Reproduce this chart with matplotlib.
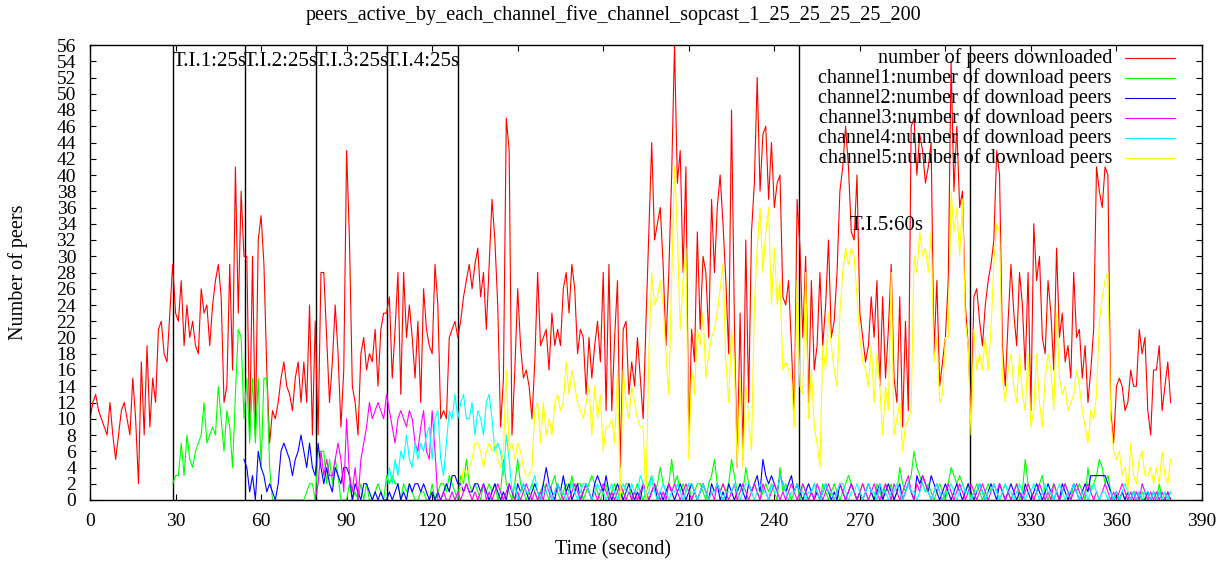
import numpy as np
import matplotlib
matplotlib.use("Agg")
import matplotlib.pyplot as plt

plt.rcParams['font.family'] = ['Liberation Serif', 'DejaVu Serif']

title = "peers_active_by_each_channel_five_channel_sopcast_1_25_25_25_25_200"

# total number of peers downloaded, one value per second from t=0
red_start = 0
red = [
    10, 12, 13, 11, 10, 9, 8, 12, 8, 5,
    8, 11, 12, 10, 8, 15, 10, 2, 17, 8,
    19, 9, 15, 12, 21, 22, 18, 17, 23, 29,
    23, 22, 27, 19, 24, 20, 22, 19, 18, 26,
    23, 24, 19, 24, 27, 29, 25, 12, 14, 29,
    16, 41, 23, 38, 30, 30, 8, 30, 8, 32,
    35, 29, 16, 7, 11, 10, 12, 15, 17, 14,
    13, 11, 15, 17, 12, 17, 12, 24, 8, 22,
    8, 28, 28, 20, 12, 17, 24, 18, 9, 16,
    43, 32, 14, 12, 8, 18, 20, 16, 18, 17,
    21, 14, 21, 23, 23, 25, 15, 21, 28, 13,
    28, 20, 24, 20, 15, 22, 12, 26, 21, 19,
    18, 29, 24, 10, 11, 10, 20, 21, 22, 20,
    22, 25, 27, 29, 26, 29, 31, 25, 28, 21,
    29, 37, 32, 24, 9, 15, 47, 43, 8, 16,
    26, 19, 15, 16, 14, 10, 17, 28, 19, 20,
    21, 16, 23, 19, 21, 19, 26, 28, 23, 29,
    26, 18, 21, 20, 13, 20, 15, 19, 22, 17,
    28, 11, 29, 11, 20, 27, 4, 21, 22, 13,
    17, 14, 20, 15, 10, 22, 33, 44, 32, 34,
    36, 29, 19, 28, 40, 56, 39, 43, 28, 41,
    7, 21, 17, 33, 21, 30, 28, 20, 37, 28,
    36, 40, 34, 27, 18, 48, 22, 4, 23, 5,
    32, 12, 33, 39, 52, 38, 45, 46, 37, 44,
    36, 39, 40, 25, 24, 27, 19, 10, 37, 31,
    20, 30, 12, 27, 16, 19, 28, 19, 24, 32,
    20, 22, 28, 38, 41, 46, 41, 33, 32, 40,
    23, 20, 17, 19, 25, 20, 27, 14, 25, 15,
    21, 29, 15, 12, 25, 9, 22, 11, 46, 47,
    40, 45, 43, 39, 41, 44, 18, 27, 14, 17,
    20, 27, 54, 38, 46, 36, 38, 24, 19, 10,
    25, 26, 22, 19, 24, 27, 29, 32, 43, 40,
    19, 14, 22, 29, 23, 19, 28, 24, 16, 28,
    11, 34, 27, 30, 20, 18, 27, 23, 16, 31,
    20, 23, 17, 19, 15, 28, 20, 21, 15, 19,
    12, 16, 21, 41, 38, 36, 41, 40, 11, 7,
    14, 15, 14, 11, 12, 16, 14, 14, 21, 18,
    20, 11, 8, 16, 16, 19, 11, 14, 17, 12,
]

ch1_start = 29
ch1 = [
    2, 3, 3, 7, 3, 8, 5, 4, 6, 7,
    8, 12, 7, 8, 9, 8, 14, 10, 6, 11,
    9, 4, 13, 21, 20, 10, 15, 7, 15, 7,
    15, 4, 15, 15, 4, 0, 0, 0, 0, 0,
    0, 0, 0, 0, 0, 0, 0, 1, 2, 2,
    0, 6, 6, 6, 2, 5, 2, 5, 3, 0,
    0, 0, 2, 0, 1, 0, 2, 0, 2, 0,
    0, 1, 2, 1, 0, 3, 2, 3, 2, 2,
    0, 2, 1, 2, 1, 0, 0, 1, 1, 0,
    0, 2, 0, 1, 2, 2, 1, 3, 2, 1,
    0,
    3, 2, 5, 2, 1, 2, 1, 0, 2, 1, 2, 1, 2, 0, 1, 5, 2, 1, 0, 2, 5, 2, 1, 0, 1,
    2, 1, 0, 1, 2, 1, 0, 2, 3, 1, 0, 1, 2, 1, 3, 1, 2, 2, 0, 1, 2, 3, 2, 1, 0,
    1, 2, 0, 1, 2, 1, 0, 1, 2, 2, 0, 1, 2, 1, 0, 1, 2, 3, 1, 2, 4, 2, 1, 2, 5,
    2, 3, 1, 2, 1, 2, 0, 1, 2, 2, 1, 0, 2, 3, 5, 2, 1, 2, 1, 2, 5, 3, 1, 2, 1,
    4, 2, 1, 2, 1, 0, 1, 2, 1, 2, 1, 0, 4, 1, 2, 1, 0, 1, 2, 0, 2, 1, 0, 1, 2,
    1, 0, 2, 1, 0, 1, 2, 1, 0, 1, 2, 3, 2, 1, 0, 1, 2, 1, 0, 1, 0, 2, 1, 0, 2,
    1, 2, 0, 1, 4, 2, 1, 2, 3, 6, 4, 3, 2, 1, 2, 1, 0, 1, 2, 1, 0, 2, 4, 3, 2,
    3, 2, 1, 2, 0, 1, 2, 1, 0, 1, 2, 1, 2, 1, 0, 1, 2, 1, 0, 1, 2, 0, 1, 5, 2,
    1, 0, 1, 2, 3, 1, 0, 1, 2, 1, 0, 1, 2, 1, 0, 2, 1, 2, 1, 0, 4, 1, 2, 3, 5,
    4, 2, 3, 1, 0, 1, 0, 1, 0, 1, 0, 1, 1, 0, 1, 0, 1, 0, 1, 0, 2, 0, 1, 0, 1,
]

ch2_start = 54
ch2 = [
    5, 4, 1, 3, 0, 6, 4, 3, 1, 2,
    1, 0, 2, 6, 7, 6, 5, 3, 5, 6,
    8, 6, 4, 7, 4, 3, 7, 4, 2, 4,
    2, 1, 4, 3, 2, 4, 4, 3, 0, 2,
    1, 0, 2, 2, 1, 0, 1, 0, 1, 0,
    0,
    1, 0, 1, 2, 0, 1, 0, 2, 1, 2, 2, 1, 2, 1, 0, 1, 0, 1, 0, 1, 2, 1, 3, 3, 2,
    2, 1, 2, 1, 1, 2, 2, 1, 2, 1, 0, 1, 2, 1, 0, 1, 0, 2, 1, 0, 2, 1, 2, 1, 0,
    1, 2, 1, 0, 2, 4, 2, 1, 0, 2, 1, 3, 1, 2, 0, 1, 2, 0, 1, 2, 1, 0, 2, 3, 2,
    1, 3, 1, 0, 1, 2, 1, 0, 1, 2, 1, 0, 1, 0, 2, 1, 0, 1, 2, 0, 1, 0, 1, 2, 1,
    0, 1, 2, 1, 0, 1, 2, 1, 0, 1, 2, 1, 0, 2, 1, 2, 0, 1, 0, 2, 1, 0, 1, 2, 1,
    0, 2, 1, 2, 3, 1, 5, 3, 2, 3, 2, 1, 3, 2, 1, 2, 3, 1, 2, 1, 0, 1, 2, 1, 0,
    1, 0, 1, 2, 1, 0, 1, 0, 2, 1, 0, 1, 2, 1, 0, 1, 0, 1, 2, 1, 0, 1, 2, 0, 1,
    2, 1, 0, 1, 2, 0, 1, 2, 1, 0, 3, 2, 3, 2, 1, 3, 2, 1, 0, 1, 2, 1, 0, 1, 2,
    1, 0, 1, 2, 1, 0, 1, 2, 1, 0, 1, 2, 1, 0, 2, 1, 0, 1, 2, 1, 0, 1, 0, 2, 1,
    0, 1, 2, 1, 0, 1, 2, 1, 0, 1, 0, 2, 1, 0, 1, 2, 1, 0, 1, 2, 1, 3, 3, 3, 3,
    3, 3, 2, 1, 0, 1, 0, 1, 0, 1, 0, 1, 0, 1, 0, 0, 1, 0, 1, 0, 1, 0, 0, 1, 0,
]

ch3_start = 79
ch3 = [
    0, 2, 6, 3, 5, 3, 3, 5, 7, 5,
    1, 10, 3, 1, 4, 0, 5, 7, 9, 12,
    10, 11, 12, 11, 10, 13, 11, 9, 7, 10,
    11, 10, 9, 11, 10, 7, 6, 9, 11, 6,
    5, 11, 6, 0, 0, 1, 0, 0, 1, 0,
    1,
    0, 1, 2, 1, 0, 1, 0, 1, 2, 0, 1, 0, 1, 2, 1, 0, 1, 2, 1, 0, 1, 0, 1, 2, 1,
    0, 1, 0, 1, 0, 2, 1, 0, 1, 2, 1, 0, 1, 0, 1, 2, 1, 0, 1, 2, 1, 0, 1, 0, 1,
    2, 1, 0, 1, 0, 1, 2, 1, 0, 1, 0, 1, 0, 1, 2, 1, 0, 1, 2, 1, 0, 1, 0, 2, 1,
    2, 1, 0, 1, 2, 1, 0, 1, 0, 1, 2, 1, 0, 1, 0, 2, 1, 2, 1, 0, 1, 2, 0, 1, 2,
    1, 0, 1, 2, 1, 0, 2, 1, 0, 1, 2, 1, 0, 1, 0, 1, 2, 1, 0, 1, 2, 1, 0, 1, 0,
    2, 1, 0, 1, 2, 1, 0, 1, 2, 1, 0, 1, 2, 1, 0, 1, 2, 1, 0, 1, 2, 1, 0, 1, 2,
    1, 0, 2, 1, 0, 1, 2, 3, 1, 0, 2, 1, 3, 2, 1, 0, 1, 2, 1, 0, 1, 2, 1, 0, 1,
    2, 1, 0, 1, 2, 1, 0, 1, 2, 1, 0, 1, 2, 1, 2, 1, 0, 1, 0, 1, 2, 1, 0, 1, 2,
    1, 0, 1, 2, 1, 0, 1, 0, 2, 1, 0, 1, 2, 1, 0, 1, 2, 1, 0, 1, 2, 1, 0, 1, 0,
    1, 2, 1, 0, 1, 0, 1, 2, 1, 0, 1, 0, 1, 0, 2, 1, 0, 1, 0, 1, 0, 1, 0, 1, 0,
]

ch4_start = 104
ch4 = [
    2, 4, 2, 5, 3, 6, 5, 8, 5, 4,
    7, 5, 7, 6, 8, 9, 5, 10, 11, 5,
    3, 7, 11, 10, 13, 10, 12, 13, 10, 10,
    12, 8, 11, 10, 8, 12, 13, 10, 6, 7,
    6, 3, 8, 5, 1, 2,
    0, 1, 2, 1, 1, 2, 3, 1, 0, 1, 1, 2, 0, 1, 2, 1, 1, 0, 1, 2, 1, 0, 1, 2, 2,
    1, 0, 1, 2, 1, 1, 0, 1, 2, 1, 0, 1, 2, 1, 1, 2, 1, 1, 3, 2, 0, 1, 3, 1, 0,
    1, 2, 1, 0, 1, 1, 2, 1, 0, 1, 2, 2, 1, 0, 1, 2, 1, 0, 1, 1, 2, 1, 0, 1, 1,
    1, 2, 1, 0, 1, 2, 2, 1, 0, 1, 2, 1, 1, 0, 2, 1, 1, 3, 2, 1, 0, 1, 1, 2, 1,
    1, 0, 1, 1, 2, 1, 0, 1, 2, 1, 1, 0, 1, 2, 2, 1, 0, 1, 1, 2, 1, 0, 1, 2, 1,
    1, 0, 2, 1, 1, 0, 1, 1, 2, 1, 0, 1, 2, 1, 1, 0, 1, 2, 1, 1, 0, 1, 2, 1, 0,
    1, 1, 2, 1, 0, 1, 2, 1, 1, 0, 1, 1, 2, 1, 0, 1, 1, 2, 1, 0, 1, 2, 1, 1, 0,
    1, 2, 1, 0, 1, 1, 2, 1, 0, 1, 2, 1, 1, 0, 1, 2, 1, 0, 1, 1, 2, 1, 0, 1, 1,
    0, 1, 2, 1, 0, 1, 1, 0, 1, 0, 1, 0, 1, 2, 1, 0, 1, 0, 1, 0, 1, 1, 0, 1, 0,
    1, 0, 1, 0, 1,
]

ch5_start = 130
ch5 = [
    1, 4, 3, 4, 5, 7, 7, 6, 4, 6,
    7, 6, 7, 5, 4, 6, 16, 6, 7, 5,
    7, 6, 4, 3, 3, 4, 11, 12, 7, 12,
    8, 10, 8, 12, 13, 11, 12, 17, 13, 16,
    14, 12, 11, 10, 12, 14, 8, 14, 10, 13,
    6, 9, 9, 10, 7, 16, 0, 16, 12, 10,
    14, 12, 10, 9, 9, 0, 18, 28, 24, 25,
    27, 24, 18, 13, 27, 41, 33, 21, 27, 31,
    5, 16, 13, 21, 19, 23, 15, 18, 20, 21,
    23, 26, 29, 17, 12, 21, 17, 4, 15, 4,
    14, 10, 6, 24, 31, 36, 28, 33, 36, 24,
    31, 24, 27, 16, 17, 16, 15, 9, 27, 14,
    13, 28, 10, 16, 9, 7, 4, 19, 16, 23,
    19, 16, 14, 23, 28, 31, 29, 31, 30, 25,
    20, 17, 16, 14, 19, 12, 18, 14, 8, 14,
    11, 28, 8, 10, 12, 6, 9, 10, 11, 30,
    28, 33, 30, 31, 28, 33, 17, 20, 12, 13,
    20, 20, 38, 33, 36, 30, 37, 22, 19, 8,
    21, 16, 18, 16, 20, 16, 21, 29, 34, 33,
    15, 12, 16, 18, 14, 12, 18, 13, 11, 18,
    9, 11, 18, 12, 9, 15, 18, 16, 11, 23,
    15, 13, 14, 11, 12, 13, 16, 14, 11, 9,
    7, 11, 10, 13, 22, 25, 27, 28, 10, 6,
    5, 6, 3, 4, 1, 7, 3, 2, 5, 6,
    3, 3, 4, 2, 4, 2, 6, 3, 2, 5,
]

labels = ["number of peers downloaded",
          "channel1:number of download peers",
          "channel2:number of download peers",
          "channel3:number of download peers",
          "channel4:number of download peers",
          "channel5:number of download peers"]
colors = ["#ff0000", "#00ff00", "#0000ff", "#ff00ff", "#00ffff", "#ffff00"]

# time intervals marked on the chart
interval_lines = [29.2, 54.2, 79.1, 104.1, 129.0, 248.8, 308.7]
interval_labels = ["T.I.1:25s", "T.I.2:25s", "T.I.3:25s", "T.I.4:25s"]
ti5_label = "T.I.5:60s"

series = [(red_start, red), (ch1_start, ch1), (ch2_start, ch2),
          (ch3_start, ch3), (ch4_start, ch4), (ch5_start, ch5)]

fig = plt.figure(figsize=(12.26, 5.64), dpi=100)
ax = fig.add_axes([90 / 1226, 1 - 500 / 564, 1112 / 1226, 455 / 564])

for xv in interval_lines:
    ax.axvline(xv, color='black', lw=1.0, zorder=1)

for (start, vals), col in zip(series, colors):
    t = np.arange(start, start + len(vals))
    ax.plot(t, vals, color=col, lw=0.8, zorder=2)

fs = 14.5
for xv, lab in zip(interval_lines[:4], interval_labels):
    ax.text(xv - 0.3, 54.0, lab, ha='left', va='center', fontsize=15, zorder=3)
ax.text(266.3, 33.8, ti5_label, ha='left', va='center', fontsize=15, zorder=3)

# key, right-justified text with line samples, like gnuplot
ys = [0.971, 0.927, 0.8835, 0.8396, 0.7956, 0.7516]
for yk, lab, col in zip(ys, labels, colors):
    ax.text(0.919, yk, lab, ha='right', va='center', fontsize=fs,
            transform=ax.transAxes, zorder=4)
    ax.plot([0.9308, 0.9757], [yk, yk], color=col, lw=0.8,
            transform=ax.transAxes, zorder=4)

ax.set_xlim(0, 390)
ax.set_ylim(0, 56)
ax.set_xticks(np.arange(0, 391, 30))
ax.set_yticks(np.arange(0, 57, 2))
ax.tick_params(direction='in', length=4, width=0.8, top=True, right=True,
               labelsize=14)
ax.tick_params(axis='y', pad=10)
ax.tick_params(axis='x', pad=9)
for sp in ax.spines.values():
    sp.set_linewidth(1.0)

fig.text(0.5, 1 - 15 / 564, title, ha='center', va='center', fontsize=fs)
fig.text(0.5, 1 - 550 / 564, "Time (second)", ha='center', va='center', fontsize=fs)
fig.text(18 / 1226, 1 - 272 / 564, "Number of peers", ha='center', va='center',
         rotation=90, fontsize=fs)

fig.savefig("out.png", dpi=100)
